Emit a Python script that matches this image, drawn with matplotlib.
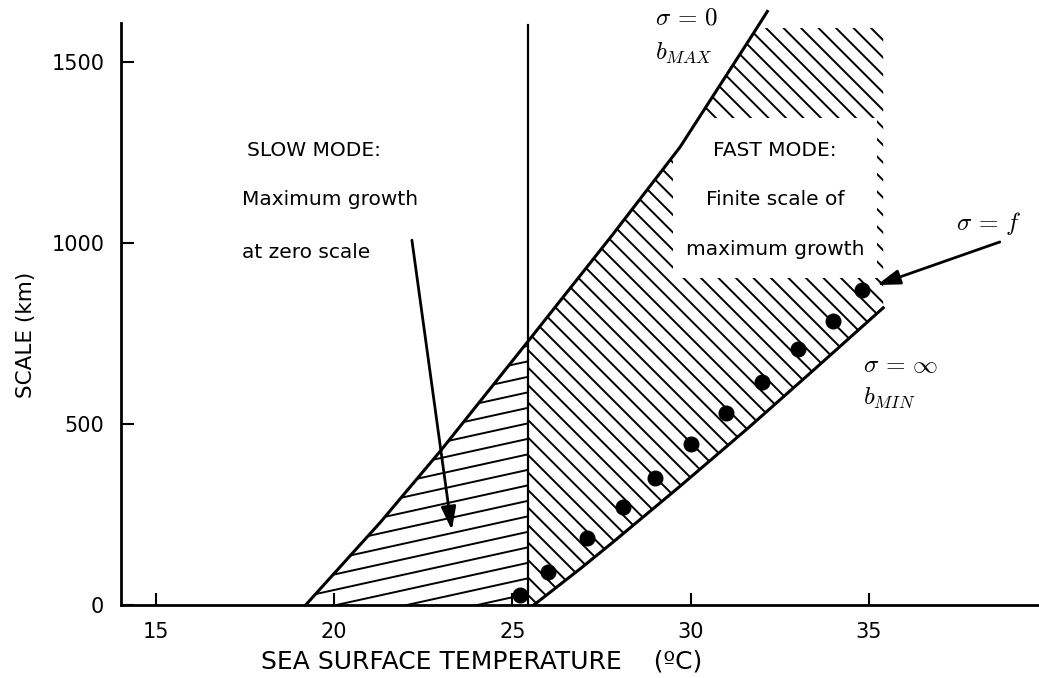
import numpy as np
import matplotlib
matplotlib.use("Agg")
import matplotlib.pyplot as plt
from matplotlib.patches import Polygon, Rectangle
from matplotlib.collections import LineCollection
from matplotlib.transforms import IdentityTransform

# sigma = 0 curve (b_MAX)
bmax_t = [19.2, 21.3, 23.0, 25.45, 27.8, 29.7, 31.75, 32.15]
bmax_s = [0, 229, 428, 730, 1022, 1265, 1578, 1640]

# sigma = infinity curve (b_MIN)
bmin_t = [25.6, 26.9, 27.8, 29.7, 31.6, 33.4, 35.4]
bmin_s = [0, 100, 172, 328, 488, 645, 821]

# sigma = f points (scale of maximum growth)
pts_t = [25.2, 26.0, 27.1, 28.1, 29.0, 30.0, 31.0, 32.0, 33.0, 34.0, 34.8]
pts_s = [28, 91, 185, 271, 351, 445, 530, 616, 707, 785, 870]

t_split = 25.45      # slow / fast boundary
hatch_top = 1594
hatch_right = 35.4

xticks = [15, 20, 25, 30, 35]
yticks = [0, 500, 1000, 1500]

plt.rcParams['mathtext.fontset'] = 'cm'
plt.rcParams['font.family'] = 'DejaVu Sans'

fig = plt.figure(figsize=(10.39, 6.78), dpi=100)
ax = fig.add_axes([121/1039, 73/678, 918/1039, 582/678])
ax.set_xlim(14.02, 39.77)
ax.set_ylim(0, 1608)

for s in ['top', 'right']:
    ax.spines[s].set_visible(False)
for s in ['left', 'bottom']:
    ax.spines[s].set_linewidth(2)
ax.set_xticks(xticks)
ax.set_yticks(yticks)
ax.tick_params(direction='in', length=9, width=1.5, labelsize=15, pad=12)
ax.set_xlabel("SEA SURFACE TEMPERATURE    (ºC)", fontsize=18)
ax.xaxis.set_label_coords(0.393, -0.077)
ax.set_ylabel("SCALE (km)", fontsize=15.5)
ax.yaxis.set_label_coords(-0.093, 0.464)

# regions
s_split = np.interp(t_split, bmax_t, bmax_s)
slow_xy = [(t, s) for t, s in zip(bmax_t, bmax_s) if t < t_split]
slow_xy += [(t_split, s_split), (t_split, 0)]
t_top = np.interp(hatch_top, bmax_s, bmax_t)
fast_xy = [(t_split, 0), (t_split, s_split)]
fast_xy += [(t, s) for t, s in zip(bmax_t, bmax_s) if t_split < t < t_top]
fast_xy += [(t_top, hatch_top), (hatch_right, hatch_top)]
fast_xy += list(zip(bmin_t[::-1], bmin_s[::-1]))

slow_patch = Polygon(slow_xy, closed=True, fill=False, lw=0)
fast_patch = Polygon(fast_xy, closed=True, fill=False, lw=0)
ax.add_patch(slow_patch)
ax.add_patch(fast_patch)


def hatch(patch, slope, step, lw=1.4):
    W, H = fig.canvas.get_width_height()
    x0, x1 = -W, 2 * W
    segs = []
    for c in np.arange(-4 * H - 3 * W, 4 * H + 3 * W, step):
        segs.append([(x0, slope * x0 + c), (x1, slope * x1 + c)])
    lc = LineCollection(segs, colors='black', linewidths=lw,
                        transform=IdentityTransform(), zorder=1)
    ax.add_collection(lc, autolim=False)
    lc.set_clip_path(patch)


hatch(slow_patch, 0.22, 15.5)
hatch(fast_patch, -1.0, 17.5)

# white box behind the fast mode text
ax.add_patch(Rectangle((29.5, 903), 5.72, 442, facecolor='white',
                       edgecolor='none', zorder=2))

ax.plot(bmax_t, bmax_s, color='black', lw=2.2, clip_on=False, zorder=3)
ax.plot(bmin_t, bmin_s, color='black', lw=2.2, zorder=3)
ax.axvline(t_split, ymax=0.997, color='black', lw=1.6, zorder=3)
ax.plot(pts_t, pts_s, 'o', color='black', markersize=10.5, zorder=4)

# labels
ax.text(29.0, 1622, r'$\sigma\,=\,0$', fontsize=18, va='center', ha='left')
ax.text(29.0, 1525, r'$b_{MAX}$', fontsize=18, va='center', ha='left')
ax.text(37.45, 1055, r'$\sigma\,=\,f$', fontsize=18, va='center', ha='left')
ax.text(34.83, 663, r'$\sigma\,=\,\infty$', fontsize=18, va='center', ha='left')
ax.text(34.83, 572, r'$b_{MIN}$', fontsize=18, va='center', ha='left')

fs = 14.5
ax.text(17.55, 1257, "SLOW MODE:", fontsize=fs, va='center', ha='left')
ax.text(17.41, 1119, "Maximum growth", fontsize=fs, va='center', ha='left')
ax.text(17.41, 975, "at zero scale", fontsize=fs, va='center', ha='left')

ax.text(32.36, 1257, "FAST MODE:", fontsize=fs, va='center', ha='center', zorder=5)
ax.text(32.36, 1119, "Finite scale of", fontsize=fs, va='center', ha='center', zorder=5)
ax.text(32.36, 981, "maximum growth", fontsize=fs, va='center', ha='center', zorder=5)

arrow = dict(arrowstyle='-|>,head_length=1.4,head_width=0.45',
             color='black', lw=2, shrinkA=0, shrinkB=0)
ax.annotate('', xy=(23.3, 207), xytext=(22.18, 1008), arrowprops=arrow, zorder=5)
ax.annotate('', xy=(35.22, 884), xytext=(38.67, 1003), arrowprops=arrow,
            annotation_clip=False, zorder=5)

fig.savefig("out.png", dpi=100)
